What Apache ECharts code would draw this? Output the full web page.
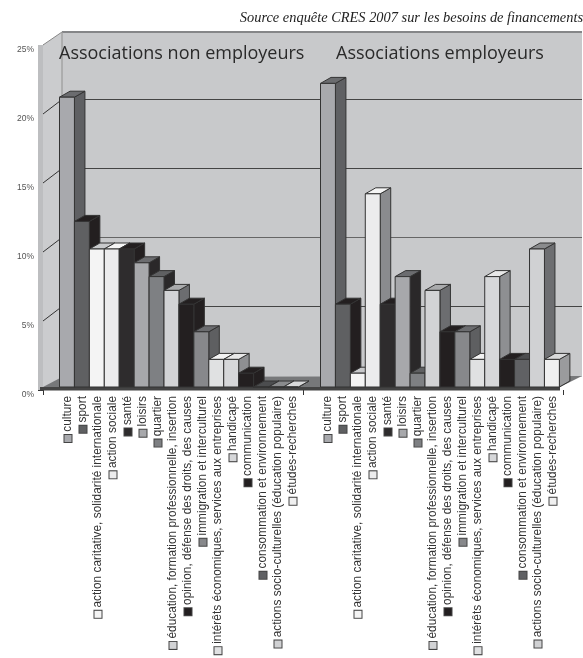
<!DOCTYPE html>
<html><head><meta charset="utf-8">
<style>html,body{margin:0;padding:0;background:#fff}#c{width:583px;height:658px}</style>
<script src="https://cdn.jsdelivr.net/npm/echarts@6/dist/echarts.min.js"></script>
</head><body><div id="c"></div>
<script>
const groups = ['Associations non employeurs', 'Associations employeurs'];
const sectors = ['culture','sport','action caritative, solidarité internationale','action sociale','santé','loisirs','quartier','éducation, formation professionnelle, insertion','opinion, défense des droits, des causes','immigration et interculturel','intérêts économiques, services aux entreprises','handicapé','communication','consommation et environnement','actions socio-culturelles (éducation populaire)','études-recherches'];
const nonEmployeurs = [21,12,10,10,10,9,8,7,6,4,2,2,1,0,0,0];
const employeurs = [22,6,1,14,6,8,1,7,4,4,2,8,2,2,10,2];
const yTicks = [5,10,15,20];
const source = 'Source enquête CRES 2007 sur les besoins de financements';

const frontColors = ['#a8a9ad','#5f6062','#f4f4f4','#ececed','#2e2c2d','#a7a8ab','#7e8083','#d2d3d5','#231f20','#87888b','#e0e1e2','#d6d7d9','#231f20','#606164','#d0d1d3','#f0f0f0'];
const sideColors = ['#5f6063','#231f20','#c0c0c2','#8a8b8e','#231f20','#2a2829','#2a2829','#6c6d70','#231f20','#5e5f61','#8a8b8e','#8e8f92','#231f20','#4c4d4f','#6d6e71','#9a9b9d'];
const topColors = ['#6b6c6f','#231f20','#c8c9cb','#f5f5f5','#231f20','#6b6c6f','#5f6062','#a9aaac','#231f20','#6b6c6f','#f3f3f3','#e8e8e8','#231f20','#4c4d4f','#8a8b8d','#d8d9da'];

const barData = [];
[nonEmployeurs, employeurs].forEach((vals, g) => vals.forEach((v, s) => barData.push([g, v, s])));
const labelData = [];
[0,1].forEach(g => sectors.forEach((n, s) => labelData.push([g, 0, s])));

const DX = 19, DY = 13, LINE_DY = 14.5;
const BAR_DX = 10.5, BAR_DY = 6, BAR_W = 14.93;

function poly(points, fill, stroke, lw) {
  return {type:'polygon', shape:{points}, style:{fill, stroke: stroke||null, lineWidth: lw||0}};
}
function seg(x1,y1,x2,y2,stroke,lw){
  return {type:'line', shape:{x1,y1,x2,y2}, style:{stroke, lineWidth:lw}};
}
function renderWalls(params, api) {
  const [x0, y0] = api.coord([0, 0]);
  const bandW = api.size([1, 0])[0];
  const xL = x0 - bandW / 2, xR = xL + 2 * bandW;
  const yT = api.coord([0, 25])[1];
  const c = [];
  c.push({type:'rect', shape:{x:xL-5, y:yT, width:5, height:y0-yT}, style:{fill:'#bdbec0'}});
  c.push(poly([[xL,yT],[xL+DX,yT-DY],[xL+DX,y0-DY],[xL,y0]], '#cbccce'));
  c.push(poly([[xL+DX,yT-DY],[xR+DX,yT-DY],[xR+DX,y0-DY],[xL+DX,y0-DY]], '#c8c9cb'));
  yTicks.forEach(v => {
    const y = api.coord([0, v])[1];
    c.push(seg(xL+DX, y-LINE_DY, xR+DX, y-LINE_DY, v===10?'#666':'#444', 1.2));
    c.push(seg(xL, y, xL+DX, y-LINE_DY, '#333', 1));
  });
  c.push(seg(xL, yT, xL+DX, yT-DY, '#888', 1));
  c.push(seg(xL+DX, yT-DY, xR+DX, yT-DY, '#858688', 2));
  c.push(seg(xL+DX, yT-DY, xL+DX, y0-DY, '#999', 1.2));
  c.push(poly([[xL,y0-3],[xR-3,y0-3],[xR+DX,y0-DY-1],[xL+DX,y0-DY]], '#77787a'));
  c.push({type:'rect', shape:{x:xL-3, y:y0-3, width:bandW*2, height:3.5}, style:{fill:'#444'}});
  return {type:'group', children:c};
}
function renderBar(params, api) {
  const g = api.value(0), v = api.value(1), s = api.value(2);
  const center = api.coord([g, 0])[0];
  const bandW = api.size([1, 0])[0];
  const x = center - bandW / 2 + 11 + 5.5 + (g ? 1 : 0) + s * BAR_W;
  const yB = api.coord([g, 0])[1] - 3;
  const yT = api.coord([g, v])[1] - 3;
  const w = BAR_W, st = '#333';
  return {type:'group', children:[
    poly([[x+w,yB],[x+w+BAR_DX,yB-BAR_DY],[x+w+BAR_DX,yT-BAR_DY],[x+w,yT]], sideColors[s], st, 1),
    poly([[x,yT],[x+BAR_DX,yT-BAR_DY],[x+w+BAR_DX,yT-BAR_DY],[x+w,yT]], topColors[s], st, 1),
    {type:'rect', shape:{x, y:yT, width:w, height:yB-yT}, style:{fill:frontColors[s], stroke:st, lineWidth:1}}
  ]};
}
function renderLabel(params, api) {
  const g = api.value(0), s = api.value(2);
  const center = api.coord([g, 0])[0];
  const bandW = api.size([1, 0])[0];
  const x = center - bandW / 2 + 25 + s * 15;
  const y = api.coord([g, 0])[1] + 6;
  return {type:'text', x, y, rotation: Math.PI/2, style:{
    text: '{s| }' + ' ' + sectors[s],
    align:'right', verticalAlign:'middle',
    font:'11.9px "Liberation Sans"', fill:'#333',
    rich:{s:{width:7, height:7, backgroundColor:frontColors[s], borderColor:'#444', borderWidth:1}}
  }};
}
const chart = echarts.init(document.getElementById('c'), null, {renderer:'canvas'});
chart.setOption({
  animation:false,
  backgroundColor:'#fff',
  title:[
    {text:source, right:0, top:11, textStyle:{fontFamily:'Liberation Serif', fontStyle:'italic', fontWeight:'normal', fontSize:14.4, color:'#222'}, padding:0},
    {text:groups[0], left:59, top:45, textStyle:{fontFamily:'Open Sans', fontWeight:'normal', fontSize:18, color:'#2a2a2a'}, padding:0},
    {text:groups[1], left:336, top:45, textStyle:{fontFamily:'Open Sans', fontWeight:'normal', fontSize:18, color:'#2a2a2a'}, padding:0}
  ],
  grid:{left:43, right:20, top:45, bottom:268},
  xAxis:{type:'category', data:groups, axisLine:{show:false},
    axisTick:{show:true, length:5, lineStyle:{color:'#333'}}, axisLabel:{show:false}, splitLine:{show:false}},
  yAxis:{type:'value', min:0, max:25, interval:5,
    axisLine:{show:true, lineStyle:{color:'#444', width:1}},
    axisTick:{show:true, length:5, lineStyle:{color:'#333'}},
    splitLine:{show:false},
    axisLabel:{formatter:'{value}%', margin:9, fontFamily:'Liberation Sans', fontSize:8.5, color:'#555', verticalAlign:'top'}},
  series:[
    {type:'custom', z:1, data:[[0,0]], encode:{x:0,y:1}, renderItem:renderWalls, silent:true},
    {type:'custom', z:2, data:barData, encode:{x:0,y:1}, renderItem:renderBar},
    {type:'custom', z:3, data:labelData, encode:{x:0,y:1}, renderItem:renderLabel}
  ]
});
</script></body></html>
